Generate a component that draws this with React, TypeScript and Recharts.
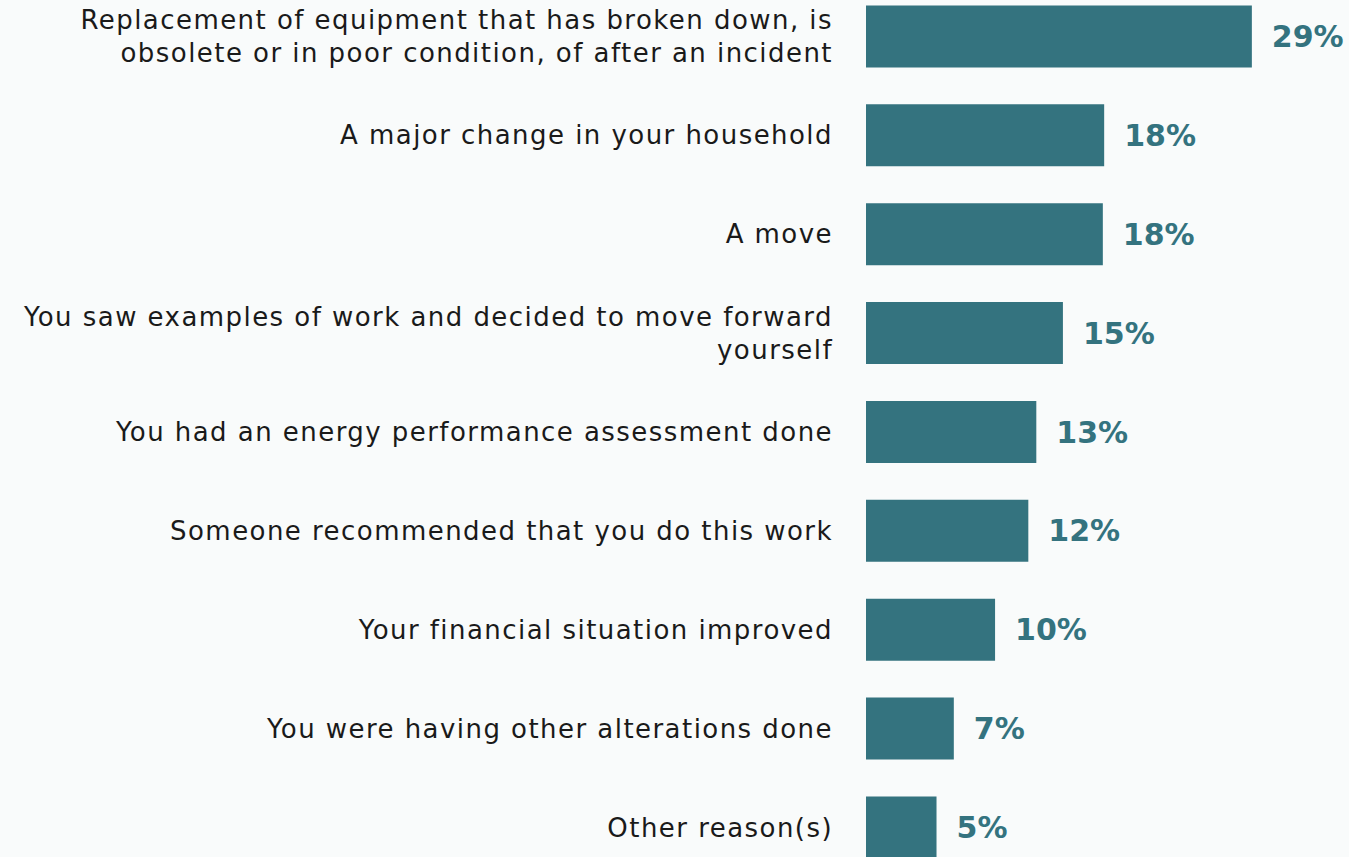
import { BarChart, Bar, XAxis, YAxis, LabelList } from "recharts";

const reasons = [
  "Replacement of equipment that has broken down, is\nobsolete or in poor condition, of after an incident",
  "A major change in your household",
  "A move",
  "You saw examples of work and decided to move forward\nyourself",
  "You had an energy performance assessment done",
  "Someone recommended that you do this work",
  "Your financial situation improved",
  "You were having other alterations done",
  "Other reason(s)",
];

const shares = [29, 17.9, 17.8, 14.8, 12.8, 12.2, 9.7, 6.6, 5.3];

const data = reasons.map((reason, i) => ({ reason, share: shares[i] }));

const TEAL = "#34737f";
const FONT = "'DejaVu Sans', sans-serif";

function ReasonTick(props: any) {
  const { x, y, payload } = props;
  const lines: string[] = String(payload.value).split("\n");
  const lineHeight = 33;
  const startDy = -((lines.length - 1) * lineHeight) / 2;
  return (
    <text
      x={x}
      y={y}
      textAnchor="end"
      dominantBaseline="central"
      fill="#1a1a1a"
      fontSize={26}
      fontFamily={FONT}
      letterSpacing={1.45}
    >
      {lines.map((line, i) => (
        <tspan key={i} x={x} dy={i === 0 ? startDy : lineHeight}>
          {line}
        </tspan>
      ))}
    </text>
  );
}

export default function App() {
  return (
    <div
      style={{
        position: "absolute",
        top: 0,
        left: 0,
        width: 1349,
        height: 857,
        overflow: "hidden",
        background: "#f9fbfb",
      }}
    >
      <div style={{ position: "absolute", top: -13, left: 0 }}>
        <BarChart
          width={1349}
          height={890}
          data={data}
          layout="vertical"
          margin={{ top: 0, right: 4, bottom: 0, left: 0 }}
          barCategoryGap="18.6%"
        >
          <XAxis type="number" domain={[0, 36]} hide />
          <YAxis
            type="category"
            dataKey="reason"
            width={866}
            axisLine={false}
            tickLine={false}
            tickSize={0}
            tickMargin={33}
            tick={<ReasonTick />}
            interval={0}
          />
          <Bar dataKey="share" fill={TEAL} isAnimationActive={false}>
            <LabelList
              dataKey="share"
              position="right"
              offset={20}
              formatter={(v: any) => `${Math.round(Number(v))}%`}
              fill={TEAL}
              fontSize={30}
              fontWeight={700}
              fontFamily={FONT}
            />
          </Bar>
        </BarChart>
      </div>
    </div>
  );
}
